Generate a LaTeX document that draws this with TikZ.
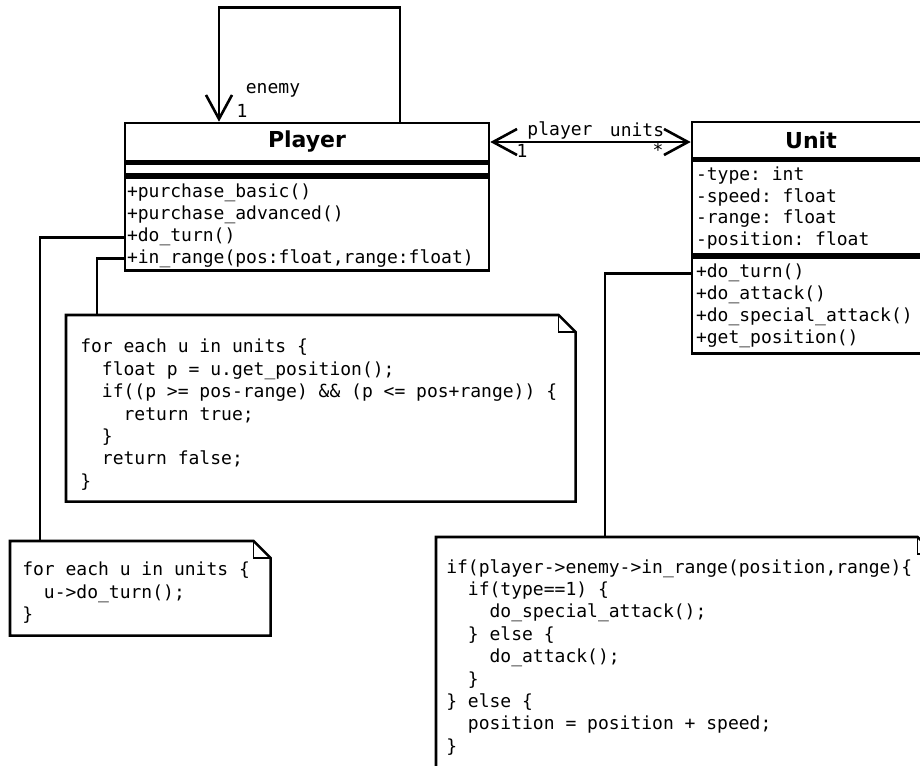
\documentclass[tikz,border=0pt]{standalone}
\usepackage{fontspec}
\setmonofont{DejaVu Sans Mono}
\setsansfont{DejaVu Sans}
\usetikzlibrary{arrows.meta, positioning}

\begin{document}
\begin{tikzpicture}[x=1pt, y=-1pt, line width=2.6pt]
\tikzstyle{classhead} = [draw=black, inner sep=0pt, font=\sffamily\bfseries\fontsize{22}{26}\selectfont]
\tikzstyle{classpart} = [draw=black, inner sep=0pt, anchor=north]
\tikzstyle{member} = [anchor=north west, inner sep=0pt, align=left, font=\ttfamily\fontsize{18}{21.8}\selectfont]
\tikzstyle{code} = [member, font=\ttfamily\fontsize{18}{22.4}\selectfont]
\tikzstyle{note} = [anchor=north west, inner sep=0pt]
\tikzstyle{fold} = [line width=1.2pt]
\tikzstyle{rolename} = [inner sep=0pt, font=\ttfamily\fontsize{18}{22}\selectfont]
\tikzstyle{assoc} = [draw=black, -{Straight Barb[length=24pt, width=26pt]}]
\tikzstyle{both assoc} = [draw=black, {Straight Barb[length=24pt, width=26pt]}-{Straight Barb[length=24pt, width=26pt]}]

\useasboundingbox (0,0) rectangle (920,765);
\clip (0,0) rectangle (920,765);

% classes
\node[classhead, minimum width=364pt, minimum height=38pt] (player) at (307,142) {Player};
\node[classpart, minimum width=364pt, minimum height=11pt] (playerattr) at (player.south) {};
\node[classpart, minimum width=364pt, minimum height=93pt] (playerops) at (playerattr.south) {};
\node[member] (playeropstext) at ([xshift=2pt, yshift=-7pt]playerops.north west)
  {+purchase\_basic()\\+purchase\_advanced()\\+do\_turn()\\+in\_range(pos:float,range:float)};

\node[classhead, minimum width=238pt, minimum height=36pt] (unit) at (811,140) {Unit};
\node[classpart, minimum width=238pt, minimum height=94pt] (unitattr) at (unit.south) {};
\node[classpart, minimum width=238pt, minimum height=96pt] (unitops) at (unitattr.south) {};
\node[member] (unitattrtext) at ([xshift=4pt, yshift=-6pt]unitattr.north west)
  {-type: int\\-speed: float\\-range: float\\-position: float};
\node[member] (unitopstext) at ([xshift=4pt, yshift=-7pt]unitops.north west)
  {+do\_turn()\\+do\_attack()\\+do\_special\_attack()\\+get\_position()};

% notes
\node[note, minimum width=507pt, minimum height=184pt] (rangenote) at (66,315) {};
\node[note, minimum width=258pt, minimum height=92pt] (turnnote) at (10,541) {};
\node[note, minimum width=496pt, minimum height=240pt] (attacknote) at (436,537) {};
\foreach \n in {rangenote, turnnote, attacknote} {
  \draw (\n.north west) -- ([xshift=-17pt]\n.north east) -- ([yshift=-17pt]\n.north east)
    -- (\n.south east) -- (\n.south west) -- cycle;
  \draw[fold] ([xshift=-17pt]\n.north east) |- ([yshift=-17pt]\n.north east);
}

\node[code] (rangetext) at ([xshift=13pt, yshift=-23pt]rangenote.north west)
  {for each u in units \{\\
   \hphantom{xx}float p = u.get\_position();\\
   \hphantom{xx}if((p >= pos-range) \&\& (p <= pos+range)) \{\\
   \hphantom{xxxx}return true;\\
   \hphantom{xx}\}\\
   \hphantom{xx}return false;\\
   \}};
\node[code] (turntext) at ([xshift=11pt, yshift=-20pt]turnnote.north west)
  {for each u in units \{\\
   \hphantom{xx}u->do\_turn();\\
   \}};
\node[code] (attacktext) at ([xshift=9pt, yshift=-21pt]attacknote.north west)
  {if(player->enemy->in\_range(position,range)\{\\
   \hphantom{xx}if(type==1) \{\\
   \hphantom{xxxx}do\_special\_attack();\\
   \hphantom{xx}\} else \{\\
   \hphantom{xxxx}do\_attack();\\
   \hphantom{xx}\}\\
   \} else \{\\
   \hphantom{xx}position = position + speed;\\
   \}};

% associations
\draw[assoc] ([xshift=93pt]player.north) -- ++(0,-114) -| ([xshift=-88pt]player.north);
\node[rolename] (enemyrole) at (273,90) {enemy};
\node[rolename] (enemymult) at (242,111) {1};

\draw[both assoc] (player.east) -- (player.east -| unit.west);
\node[rolename] (playerrole) at (560,130) {player};
\node[rolename] (unitsrole) at (637,130) {units};
\node[rolename] (playermult) at (522,151) {1};
\node[rolename] (unitsmult) at (658,150) {*};

% note links
\draw ([yshift=-13.5pt]playerops.west) -| ([xshift=30pt]turnnote.north west);
\draw ([yshift=-34.5pt]playerops.west) -| ([xshift=31pt]rangenote.north west);
\draw ([yshift=32pt]unitops.west) -| ([xshift=169pt]attacknote.north west);
\end{tikzpicture}
\end{document}
